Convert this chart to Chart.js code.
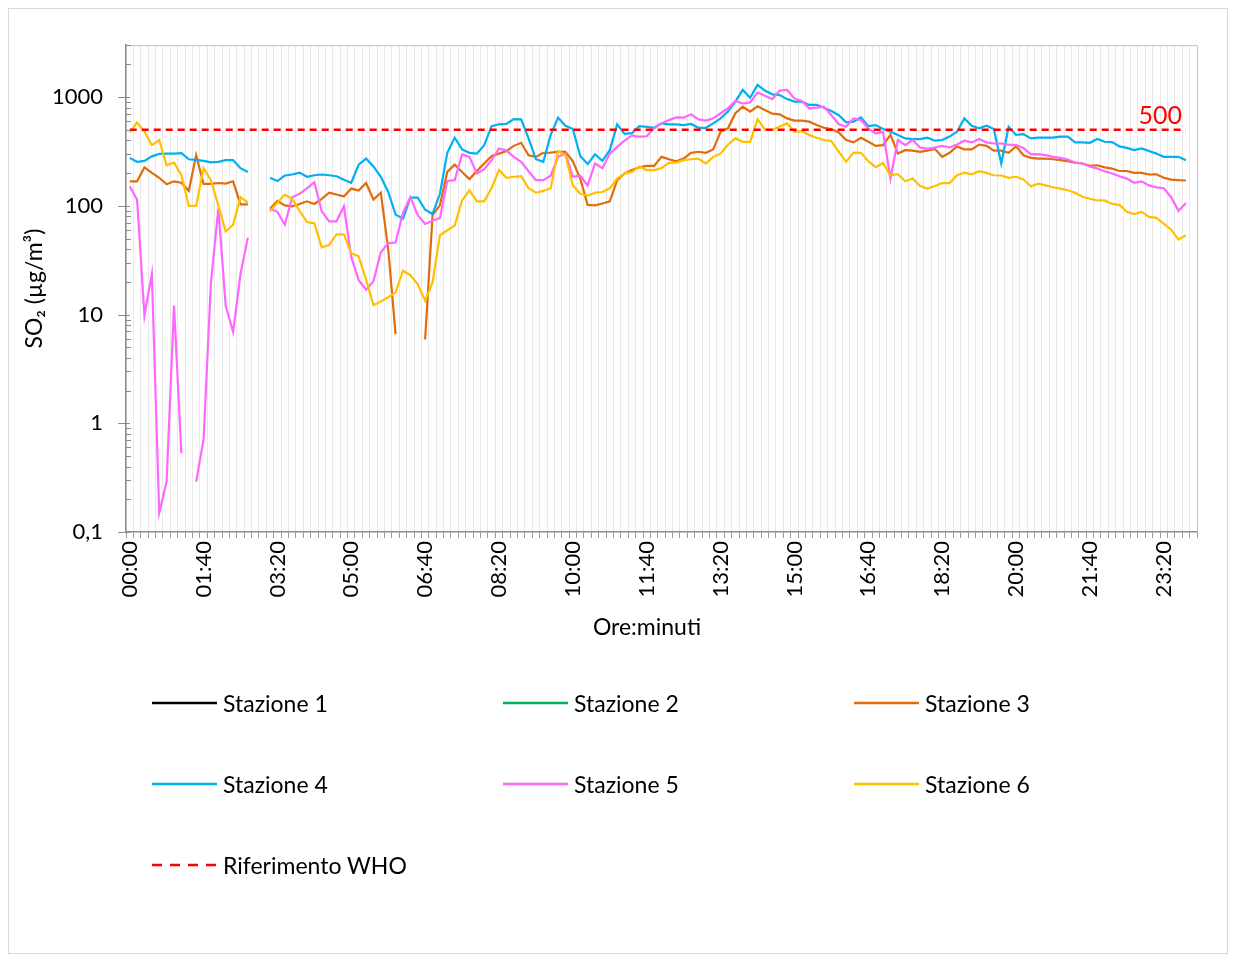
<!DOCTYPE html>
<html>
<head>
<meta charset="utf-8">
<script src="https://cdn.jsdelivr.net/npm/chart.js@4.4.1/dist/chart.umd.min.js"></script>
<style>
  html, body { margin: 0; padding: 0; background: #fff; }
  body { width: 1237px; height: 962px; position: relative; overflow: hidden; font-family: Lato, "Open Sans", sans-serif; }
  #frame { position: absolute; left: 8px; top: 8px; width: 1220px; height: 946px; border: 1px solid #d9d9d9; box-sizing: border-box; }
  #chart { position: absolute; left: 0; top: 0; }
  #xtitle { position: absolute; left: 547px; width: 200px; top: 611px; text-align: center; font-size: 23px; line-height: 30px; color: #000; }
  .item { position: absolute; height: 26px; display: flex; align-items: center; font-size: 23px; color: #000; white-space: nowrap; }
  .item svg { margin-right: 6px; }
</style>
</head>
<body>
<div id="frame">
  <canvas id="chart" width="1218" height="944"></canvas>
</div>
<div id="xtitle">Ore:minuti</div>
<div id="legend"></div>
<script>
// 10-minute steps over one day (00:00 .. 24:00)
const times = [];
for (let m = 0; m <= 1440; m += 10) {
  times.push(String(Math.floor(m / 60) % 24).padStart(2, "0") + ":" + String(m % 60).padStart(2, "0"));
}

const stazione1 = [];
const stazione2 = [];
const stazione3 = [
  168, 168, 226, 201, 181, 158, 168, 163, 137, 292,
  159, 159, 162, 160, 168, 103, 103, null, null, 94,
  111, 101, 99, 104, 110, 104, 116, 132, 127, 122,
  144, 138, 162, 114, 132, 40, 6.6, null, null, null,
  5.9, 82, 101, 205, 239, 205, 176, 209, 245, 287,
  302, 319, 356, 380, 292, 282, 307, 309, 314, 314,
  257, 178, 102, 101, 105, 110, 172, 198, 213, 226,
  233, 233, 282, 268, 257, 272, 307, 314, 307, 330,
  480, 516, 710, 817, 735, 822, 762, 704, 694, 637,
  607, 607, 594, 553, 522, 508, 473, 403, 383, 423,
  388, 356, 361, 449, 302, 325, 322, 314, 322, 334,
  282, 307, 352, 330, 330, 366, 356, 322, 322, 307,
  352, 292, 276, 272, 272, 268, 263, 257, 250, 245,
  233, 236, 226, 220, 209, 209, 201, 201, 194, 195,
  181, 174, 172, 171, null
];
const stazione4 = [
  276, 254, 259, 285, 300, 302, 302, 305, 268, 264,
  259, 251, 254, 263, 263, 222, 205, null, null, 181,
  169, 190, 194, 202, 185, 191, 194, 191, 187, 174,
  163, 239, 272, 230, 185, 134, 83, 76, 119, 119,
  92, 84, 129, 307, 423, 330, 307, 302, 361, 541,
  562, 566, 628, 624, 417, 268, 254, 449, 647, 545,
  508, 287, 242, 298, 259, 325, 562, 459, 466, 541,
  533, 522, 573, 562, 562, 553, 566, 522, 522, 573,
  637, 735, 908, 1164, 986, 1292, 1147, 1060, 1044, 958,
  908, 908, 846, 846, 799, 745, 681, 585, 594, 651,
  541, 553, 508, 480, 449, 417, 411, 411, 423, 397,
  403, 433, 480, 637, 545, 516, 545, 508, 245, 533,
  449, 456, 417, 423, 423, 423, 433, 433, 383, 383,
  380, 411, 388, 385, 352, 341, 325, 337, 319, 302,
  282, 282, 282, 263, null
];
const stazione5 = [
  151, 114, 9.8, 23.6, 0.15, 0.29, 12.1, 0.53, null, 0.29,
  0.71, 19.7, 94, 12, 6.9, 23.6, 51, null, null, 94,
  88, 67, 120, 129, 145, 165, 89, 72, 72, 99,
  33.7, 20.7, 16.9, 20.2, 37.4, 45.3, 46, 86, 120, 82,
  68, 73, 77, 169, 172, 297, 282, 198, 217, 263,
  337, 322, 282, 254, 208, 172, 172, 189, 282, 302,
  185, 189, 154, 245, 222, 302, 348, 397, 445, 432,
  436, 516, 573, 614, 651, 647, 694, 624, 607, 637,
  710, 787, 922, 873, 893, 1100, 1029, 958, 1147, 1164,
  972, 922, 787, 799, 817, 681, 562, 533, 637, 614,
  516, 462, 480, 178, 403, 361, 403, 344, 334, 344,
  356, 344, 366, 397, 383, 411, 383, 374, 374, 366,
  361, 341, 297, 299, 292, 282, 276, 267, 250, 245,
  230, 220, 208, 198, 187, 178, 163, 168, 154, 148,
  145, 120, 90, 106, null
];
const stazione6 = [
  473, 583, 480, 361, 403, 236, 250, 191, 100, 100,
  222, 172, 101, 58, 67, 120, 107, null, null, 89,
  107, 127, 116, 90, 71, 69, 41.5, 43.5, 54.5, 54.5,
  36.6, 34.3, 21, 12.2, 13.2, 14.4, 16, 25.3, 23, 19,
  13.4, 19.7, 53.6, 59.6, 66, 112, 139, 110, 110, 146,
  214, 181, 185, 187, 145, 132, 137, 145, 319, 292,
  154, 129, 124, 132, 134, 145, 178, 198, 205, 230,
  213, 213, 222, 248, 250, 263, 268, 272, 245, 282,
  302, 366, 417, 388, 388, 628, 505, 498, 535, 573,
  480, 486, 449, 423, 403, 394, 314, 254, 309, 307,
  257, 227, 248, 191, 195, 168, 178, 152, 144, 152,
  162, 162, 191, 202, 195, 208, 201, 191, 190, 181,
  185, 175, 151, 160, 154, 148, 144, 139, 132, 121,
  116, 112, 112, 104, 102, 88, 84, 88, 79, 77.5,
  68.5, 60.3, 49, 53.5, null
];
const WHO_LIMIT = 500;
const whoLine = times.slice(0, 144).map(() => WHO_LIMIT);

const Y_MIN = 0.1, Y_MAX = 3000;
const DECADES = [0.1, 1, 10, 100, 1000];

// minor log ticks, plot frame and the "500" tag
const decor = {
  id: "decor",
  afterDatasetsDraw(c) {
    const { ctx, chartArea: a, scales: { y } } = c;
    ctx.save();
    ctx.lineWidth = 1;
    ctx.strokeStyle = "#c0c0c0";
    ctx.beginPath();
    ctx.moveTo(a.left, a.top + 0.5);
    ctx.lineTo(a.right + 0.5, a.top + 0.5);
    ctx.lineTo(a.right + 0.5, a.bottom);
    ctx.stroke();

    ctx.strokeStyle = "#8c8c8c";
    ctx.beginPath();
    for (const d of DECADES) {
      for (let k = 1; k <= 9; k++) {
        const v = d * k;
        if (v > Y_MAX) break;
        const py = Math.round(y.getPixelForValue(v)) + 0.5;
        if (k === 1) { ctx.moveTo(a.left - 8, py); ctx.lineTo(a.left + 4, py); }
        else { ctx.moveTo(a.left, py); ctx.lineTo(a.left + 5, py); }
      }
    }
    ctx.stroke();

    const meta = c.getDatasetMeta(c.data.datasets.length - 1);
    const last = meta.data[meta.data.length - 1];
    ctx.fillStyle = "#ff0000";
    ctx.font = "25px Lato";
    ctx.textAlign = "right";
    ctx.textBaseline = "alphabetic";
    ctx.fillText(String(WHO_LIMIT), last.x - 4, y.getPixelForValue(WHO_LIMIT) - 6);
    ctx.restore();
  },
};

const line = (label, data, color, order) => ({
  label, data, borderColor: color, backgroundColor: color,
  borderWidth: 2.2, pointRadius: 0, tension: 0, spanGaps: false, order,
});

const chart = new Chart(document.getElementById("chart"), {
  type: "line",
  data: {
    labels: times,
    datasets: [
      line("Stazione 1", stazione1, "#000000", 6),
      line("Stazione 2", stazione2, "#00B050", 5),
      line("Stazione 3", stazione3, "#E26B0A", 4),
      line("Stazione 4", stazione4, "#00B0F0", 3),
      line("Stazione 5", stazione5, "#FF66FF", 2),
      line("Stazione 6", stazione6, "#FFC000", 1),
      { ...line("Riferimento WHO", whoLine, "#FF0000", 0), borderDash: [7, 5], borderWidth: 2.4 },
    ],
  },
  options: {
    responsive: false,
    animation: false,
    devicePixelRatio: 1,
    layout: { padding: { top: 36, right: 30, bottom: 314, left: 0 } },
    plugins: { legend: { display: false }, tooltip: { enabled: false } },
    scales: {
      x: {
        type: "category",
        offset: true,
        afterFit: (s) => { s.height = 107; },
        grid: { display: true, offset: true, color: "#e8e8e8", lineWidth: 1, drawTicks: true, tickLength: 6, tickColor: "#9a9a9a" },
        border: { display: true, color: "#8c8c8c", width: 1.5 },
        ticks: {
          autoSkip: false, minRotation: 90, maxRotation: 90, padding: 3,
          color: "#000", font: { family: "Lato", size: 22 },
          callback: (v, i) => (i % 10 === 0 && i < 144 ? times[i] : ""),
        },
      },
      y: {
        type: "logarithmic",
        min: Y_MIN, max: Y_MAX,
        afterFit: (s) => { s.width = 117; },
        afterBuildTicks: (s) => { s.ticks = DECADES.map((v) => ({ value: v, major: true })); },
        grid: { display: false, drawTicks: false },
        border: { display: true, color: "#8c8c8c", width: 1.5 },
        ticks: {
          padding: 23, color: "#000", font: { family: "Lato", size: 22 },
          callback: (v) => String(v).replace(".", ","),
        },
        title: { display: true, text: "SO₂ (µg/m³)", color: "#000", font: { family: "Lato", size: 23 }, padding: { top: 12, bottom: 0 } },
      },
    },
  },
  plugins: [decor],
});

// legend: three columns, built from the datasets
const legend = document.getElementById("legend");
chart.data.datasets.forEach((ds, i) => {
  const col = i % 3, row = Math.floor(i / 3);
  const el = document.createElement("div");
  el.className = "item";
  el.style.left = (152 + col * 351) + "px";
  el.style.top = (690 + row * 81) + "px";
  const dash = ds.borderDash ? 'stroke-dasharray="10 8"' : "";
  el.innerHTML = `<svg width="65" height="6"><line x1="0" y1="3" x2="65" y2="3" stroke="${ds.borderColor}" stroke-width="2.6" ${dash}/></svg><span>${ds.label}</span>`;
  legend.appendChild(el);
});
</script>
</body>
</html>
